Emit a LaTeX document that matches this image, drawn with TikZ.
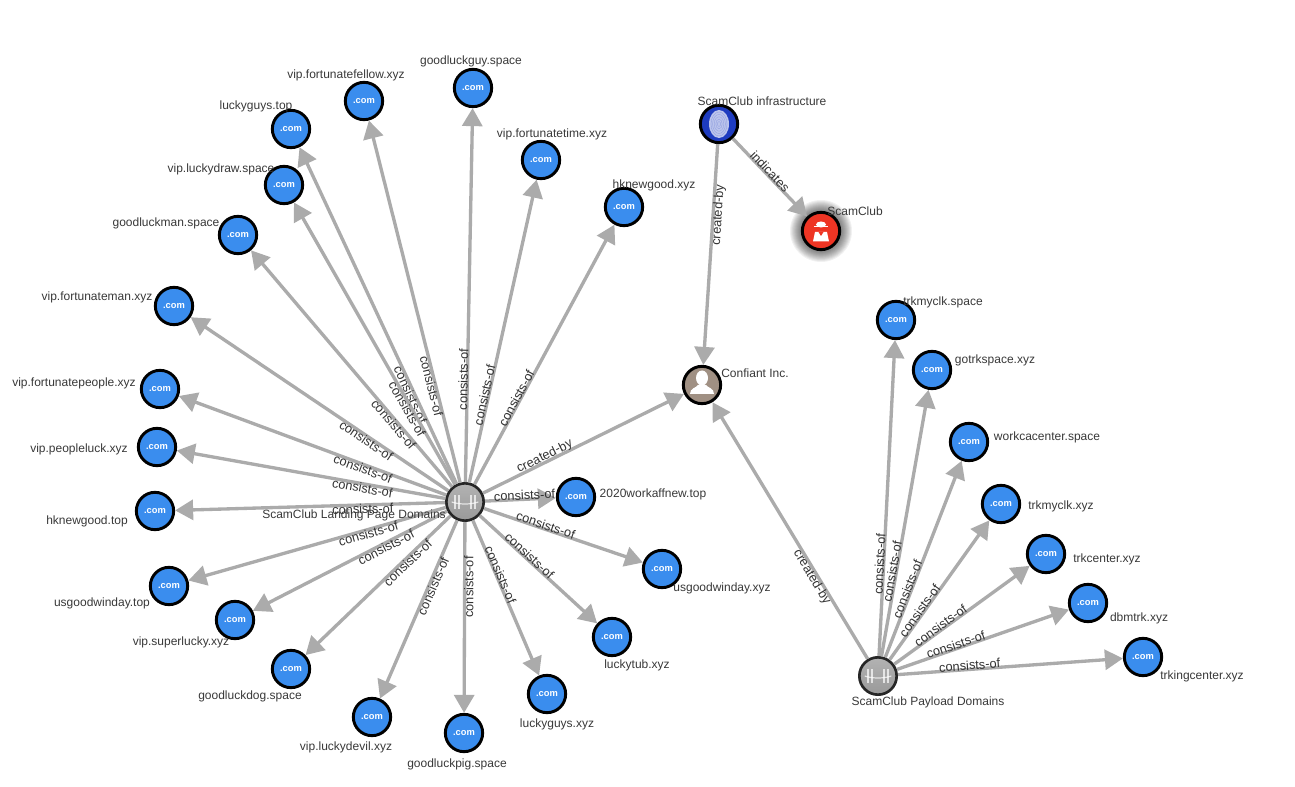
\documentclass[tikz,border=0pt]{standalone}
\usepackage{fontspec}
\setmainfont{Liberation Sans}
\usetikzlibrary{arrows.meta}

\definecolor{edgegray}{HTML}{ABABAB}
\definecolor{textgray}{HTML}{383838}
\definecolor{dnsblue}{HTML}{3A8DEE}
\definecolor{printblue}{HTML}{1E3CC0}
\definecolor{actorred}{HTML}{EE3524}
\definecolor{orgbrown}{HTML}{A09083}

\tikzset{
    basenode/.style={circle,draw=black,line width=2.2pt,minimum size=28pt,inner sep=0pt,text=white},
    domainnode/.style={basenode,fill=dnsblue,font=\fontsize{7}{8}\selectfont\bfseries},
    hubnode/.style={basenode,draw=black!85,line width=2pt,top color=gray!60,bottom color=gray!80,path picture={
        \draw[white,opacity=.7,line width=.9pt] ([xshift=-10pt]path picture bounding box.center) .. controls +(6pt,-2pt) and +(-6pt,-2pt) .. ([xshift=10pt]path picture bounding box.center);
        \foreach \dx in {-7.5,-4.5,4.5,7.5}
            \draw[white,opacity=.7,line width=.8pt] ([xshift=\dx pt,yshift=-5pt]path picture bounding box.center) -- ([xshift=\dx pt,yshift=5pt]path picture bounding box.center);
    }},
    linkedge/.style={draw=edgegray,line width=2.5pt,-{Triangle[length=13.5pt,width=15pt]}},
    nametext/.style={text=textgray,font=\fontsize{9}{10}\selectfont,inner sep=0pt,yshift=-.75pt},
    linktext/.style={text=black!80,font=\fontsize{9.6}{11}\selectfont,inner sep=0pt,outer sep=-.4pt,sloped},
}

\begin{document}
\begin{tikzpicture}[x=0.75pt,y=-0.75pt]
    \useasboundingbox (0,0) rectangle (1295,787);

    % glow behind the actor
    \foreach \r in {31,30,...,21}
        \fill[black,opacity=.055] (821,231) circle (\r);

    \node[hubnode] (landing) at (465,502) {};
    \node[hubnode] (payload) at (878,676) {};
    \node[basenode,fill=printblue] (infra) at (719,124) {};
    \node[basenode,fill=actorred] (actor) at (821,231) {};
    \node[basenode,fill=orgbrown] (confiant) at (702,385) {};

    % icons
    \fill[white,opacity=.7] (719,124) ellipse (10 and 14);
    \foreach \s in {2,4,...,10}
        \draw[printblue!50,line width=.25pt] (719,124) ellipse (\s*.8 and \s*1.2);
    \fill[white] (813,241.5) -- (815,232) -- (827,232) -- (829,241.5) -- cycle;
    \fill[white] (821,224.5) ellipse (5 and 3);
    \fill[white] (814,226) rectangle (828,227.5);
    \fill[actorred] (818.5,232) -- (823.5,232) -- (821,236) -- cycle;
    \fill[white] (702,378) ellipse (6 and 7.5);
    \fill[white] (690,394) .. controls (690,388) and (696,388) .. (698,385) -- (706,385) .. controls (708,388) and (714,388) .. (714,394) -- cycle;

    % landing page domains, right of the hub
    \foreach \id/\x/\y/\lx/\ly/\name/\p/\side in {
        guy/473/88/471/60/goodluckguy.space/.274/above,
        time/541/160/552/133/vip.fortunatetime.xyz/.285/above,
        hkxyz/624/207/654/184/hknewgood.xyz/.325/above,
        work/576/497/653/493/2020workaffnew.top/.56/above,
        usxyz/662/569/722/587/usgoodwinday.xyz/.38/above,
        tub/612/637/637/664/luckytub.xyz/.40/above,
        lgxyz/547/694/557/723/luckyguys.xyz/.36/above}
    {
        \node[domainnode] (\id) at (\x,\y) {.com};
        \node[nametext] at (\lx,\ly) {\name};
        \path[linkedge] (landing) -- node[linktext,pos=\p,\side] {consists-of} (\id);
    }

    % landing page domains, left of the hub
    \foreach \id/\x/\y/\lx/\ly/\name/\p/\side in {
        fellow/364/101/346/74/vip.fortunatefellow.xyz/.27/below,
        lgtop/291/129/256/105/luckyguys.top/.27/below,
        draw/284/185/221/168/vip.luckydraw.space/.275/below,
        man/238/235/166/222/goodluckman.space/.275/below,
        fman/174/306/97/296/vip.fortunateman.xyz/.31/below,
        people/160/389/74/382/vip.fortunatepeople.xyz/.306/below,
        pluck/157/447/79/448/vip.peopleluck.xyz/.306/below,
        hktop/155/511/87/520/hknewgood.top/.305/below,
        ustop/169/586/102/602/usgoodwinday.top/.305/below,
        super/235/620/181/641/vip.superlucky.xyz/.325/below,
        dog/291/669/250/695/goodluckdog.space/.315/below,
        devil/372/717/346/746/vip.luckydevil.xyz/.36/below,
        pig/464/733/457/763/goodluckpig.space/.34/below}
    {
        \node[domainnode] (\id) at (\x,\y) {.com};
        \node[nametext] at (\lx,\ly) {\name};
        \path[linkedge] (landing) -- node[linktext,pos=\p,\side] {consists-of} (\id);
    }

    % payload domains
    \foreach \id/\x/\y/\lx/\ly/\name/\p in {
        tspace/896/320/943/301/trkmyclk.space/.29,
        gotrk/932/370/995/359/gotrkspace.xyz/.315,
        wcc/969/442/1047/436/workcacenter.space/.34,
        txyz/1001/504/1061/505/trkmyclk.xyz/.335,
        tcenter/1046/554/1107/558/trkcenter.xyz/.36,
        dbm/1088/603/1139/617/dbmtrk.xyz/.35,
        tking/1143/657/1202/675/trkingcenter.xyz/.32}
    {
        \node[domainnode] (\id) at (\x,\y) {.com};
        \node[nametext] at (\lx,\ly) {\name};
        \path[linkedge] (payload) -- node[linktext,pos=\p,above] {consists-of} (\id);
    }

    \path[linkedge] (infra) -- node[linktext,pos=.32,below] {created-by} (confiant);
    \path[linkedge] (infra) -- node[linktext,pos=.46,above] {indicates} (actor);
    \path[linkedge] (landing) -- node[linktext,pos=.32,above] {created-by} (confiant);
    \path[linkedge] (payload) -- node[linktext,pos=.33,below] {created-by} (confiant);

    \node[nametext] at (762,100) {ScamClub infrastructure};
    \node[nametext] at (855,210) {ScamClub};
    \node[nametext] at (755,372) {Confiant Inc.};
    \node[nametext] at (354,514) {ScamClub Landing Page Domains};
    \node[nametext] at (928,701) {ScamClub Payload Domains};
\end{tikzpicture}
\end{document}
